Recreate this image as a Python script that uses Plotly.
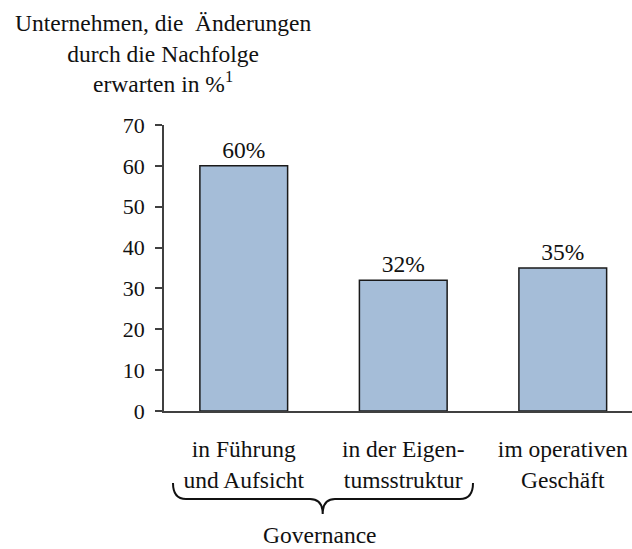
import plotly.graph_objects as go

# ---- data ----
categories = ["in Führung<br>und Aufsicht", "in der Eigen-<br>tumsstruktur", "im operativen<br>Geschäft"]
values = [60, 32, 35]
y_ticks = [0, 10, 20, 30, 40, 50, 60, 70]
title_text = "Unternehmen, die  Änderungen<br>durch die Nachfolge<br>erwarten in %<sup>1</sup>"
group_label = "Governance"

W, H = 632, 549
ML, MR, MT, MB = 164, 0, 125, 138
PW, PH = W - ML - MR, H - MT - MB
FONT = "Liberation Serif, Times New Roman, serif"

def px(xp):
    return (xp - ML) / PW

def py(yp):
    return (H - MB - yp) / PH

fig = go.Figure()
fig.add_trace(go.Bar(
    x=list(range(len(values))), y=values, width=0.55,
    marker=dict(color="#a5bdd8", line=dict(color="#1a1a1a", width=1.5)),
    text=[f"{v}%" for v in values], textposition="outside",
    textfont=dict(family=FONT, size=23.5, color="#111"),
    cliponaxis=False, showlegend=False,
))

# curly brace grouping the first two categories
pts = [
    ("M", [(173, 483)]),
    ("Q", [(173, 499), (186, 499)]),
    ("L", [(310, 499)]),
    ("Q", [(322.7, 499), (322.7, 514)]),
    ("Q", [(322.7, 499), (335, 499)]),
    ("L", [(460, 499)]),
    ("Q", [(473, 499), (473, 483)]),
]
path = " ".join(cmd + " " + " ".join(f"{px(a):.5f},{py(b):.5f}" for a, b in p) for cmd, p in pts)
fig.add_shape(type="path", path=path, xref="paper", yref="paper",
              line=dict(color="#111", width=2))

fig.add_annotation(text=group_label, xref="paper", yref="paper",
                   x=px(320), y=py(535), xanchor="center", yanchor="middle",
                   showarrow=False, font=dict(family=FONT, size=23.5, color="#111"))

fig.add_annotation(text=title_text, xref="paper", yref="paper",
                   x=px(163), y=py(8), xanchor="center", yanchor="top", align="center",
                   showarrow=False, font=dict(family=FONT, size=23.5, color="#111"))

fig.update_layout(
    width=W, height=H, margin=dict(l=ML, r=MR, t=MT, b=MB, autoexpand=False),
    plot_bgcolor="white", paper_bgcolor="white",
    font=dict(family=FONT, size=22, color="#111"),
    bargap=0.45,
)
fig.update_xaxes(
    range=[-0.5, 2.434], tickmode="array", tickvals=list(range(len(values))),
    ticktext=categories, showline=True, linecolor="#404040", linewidth=1.5,
    ticks="outside", ticklen=16, tickcolor="rgba(0,0,0,0)",
    tickfont=dict(family=FONT, size=23.5, color="#111"),
    showgrid=False, zeroline=False, automargin=False,
)
fig.update_yaxes(
    range=[0, 70], tickmode="array", tickvals=y_ticks,
    showline=True, linecolor="#404040", linewidth=1.5,
    ticks="outside", ticklen=7, tickcolor="#404040", tickwidth=1.5,
    tickfont=dict(family=FONT, size=22, color="#111"), ticklabelstandoff=6,
    showgrid=False, zeroline=False, automargin=False,
)

fig.write_html("out.html", config={"displayModeBar": False},
               post_script="document.body.style.margin='0';document.body.style.overflow='hidden';")
